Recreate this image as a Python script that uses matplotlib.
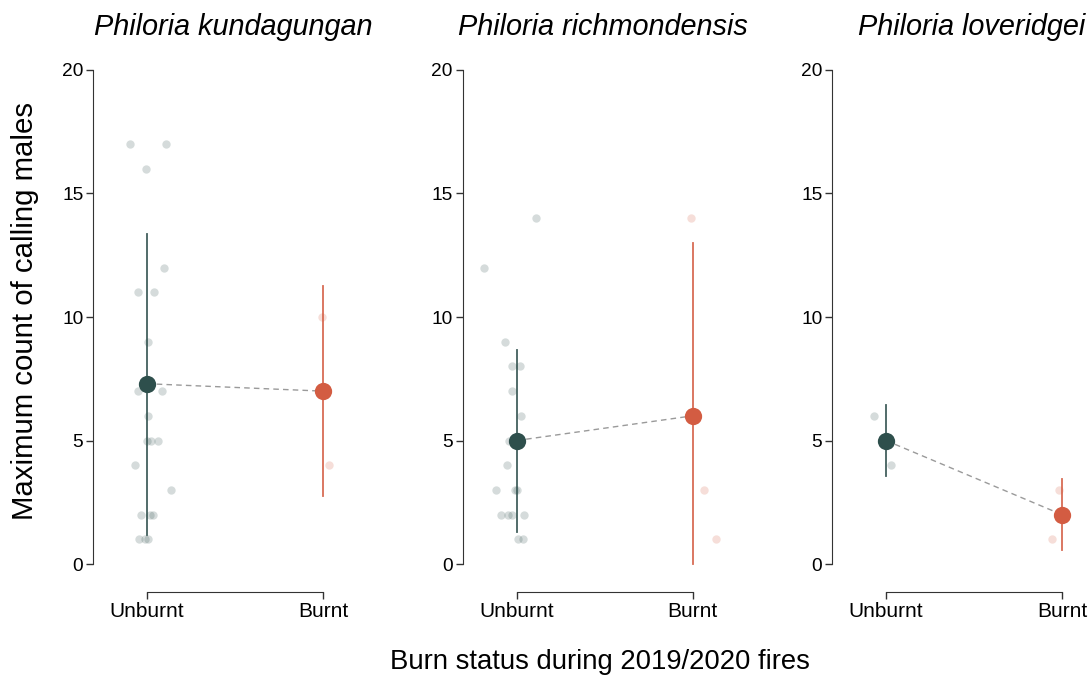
import numpy as np
import matplotlib.pyplot as plt

plt.rcParams['font.family'] = ['Liberation Sans', 'DejaVu Sans']

species = ['Philoria kundagungan', 'Philoria richmondensis', 'Philoria loveridgei']
groups = ['Unburnt', 'Burnt']

# raw counts per survey site (value, jitter offset)
unburnt_vals = [
    [17, 17, 16, 12, 11, 11, 9, 7, 7, 6, 5, 5, 5, 4, 3, 2, 2, 2, 1, 1, 1],
    [14, 12, 9, 8, 8, 7, 6, 5, 4, 3, 3, 3, 2, 2, 2, 2, 1, 1],
    [6, 4],
]
unburnt_jit = [
    [-0.098, 0.108, -0.006, 0.098, -0.051, 0.041, 0.007, -0.051, 0.085, 0.004,
     -0.002, 0.023, 0.061, -0.07, 0.135, -0.036, 0.017, 0.034, -0.044, -0.011, 0.006],
    [0.112, -0.182, -0.066, -0.024, 0.017, -0.028, 0.027, -0.04, -0.053,
     -0.115, -0.011, 0.0, -0.091, -0.051, -0.028, 0.04, 0.011, 0.034],
    [-0.068, 0.028],
]
burnt_vals = [[10, 4], [14, 3, 1], [3, 1]]
burnt_jit = [[-0.006, 0.034], [-0.006, 0.063, 0.136], [-0.017, -0.057]]

# model estimates and intervals
means = [[7.3, 7.0], [5.0, 6.0], [5.0, 2.0]]
lower = [[1.17, 2.75], [1.3, 0.0], [3.58, 0.57]]
upper = [[13.36, 11.25], [8.66, 13.0], [6.42, 3.43]]

cols = ['#2e4f4c', '#d35c42']

W, H = 1092, 682
fig = plt.figure(figsize=(W / 100, H / 100), dpi=100)

ymin, ymax = -1.13, 20.5
xmin, xmax = -0.307, 1.284
for i in range(3):
    left = 93 + i * 369.5
    ax = fig.add_axes([left / W, (H - 592) / H, 280 / W, (592 - 57.6) / H])
    vals = [unburnt_vals[i], burnt_vals[i]]
    jits = [unburnt_jit[i], burnt_jit[i]]
    for g in range(2):
        x = g + np.array(jits[g])
        ax.scatter(x, vals[g], s=36, color=cols[g], alpha=0.2, linewidths=0, zorder=2)
        ax.plot([g, g], [lower[i][g], upper[i][g]], color=cols[g], lw=1.3, alpha=0.9, zorder=3)
    ax.plot([0, 1], means[i], ls=(0, (4, 3)), color='#9a9a9a', lw=1, zorder=3)
    for g in range(2):
        ax.scatter([g], [means[i][g]], s=155, color=cols[g], linewidths=0, zorder=4)

    ax.set_xlim(xmin, xmax)
    ax.set_ylim(ymin, ymax)
    ax.set_xticks([0, 1])
    ax.set_xticklabels(groups, fontsize=15)
    ax.set_yticks([0, 5, 10, 15, 20])
    ax.tick_params(axis='both', length=5, width=1, pad=2, colors='#333333', labelcolor='black')
    ax.tick_params(axis='y', labelsize=13.8)
    for s in ['top', 'right']:
        ax.spines[s].set_visible(False)
    ax.spines['left'].set_bounds(0, 20)
    ax.spines['bottom'].set_bounds(0, 1)
    ax.spines['left'].set_color('#333333')
    ax.spines['bottom'].set_color('#333333')
    ax.set_title(species[i], fontsize=20.8, style='italic', pad=16)

fig.text(25 / W, 1 - 311 / H, 'Maximum count of calling males', rotation=90,
         ha='center', va='center', fontsize=21.2)
fig.text(600 / W, 1 - 662 / H, 'Burn status during 2019/2020 fires',
         ha='center', va='center', fontsize=19.8)

fig.savefig('out.png', dpi=100)
